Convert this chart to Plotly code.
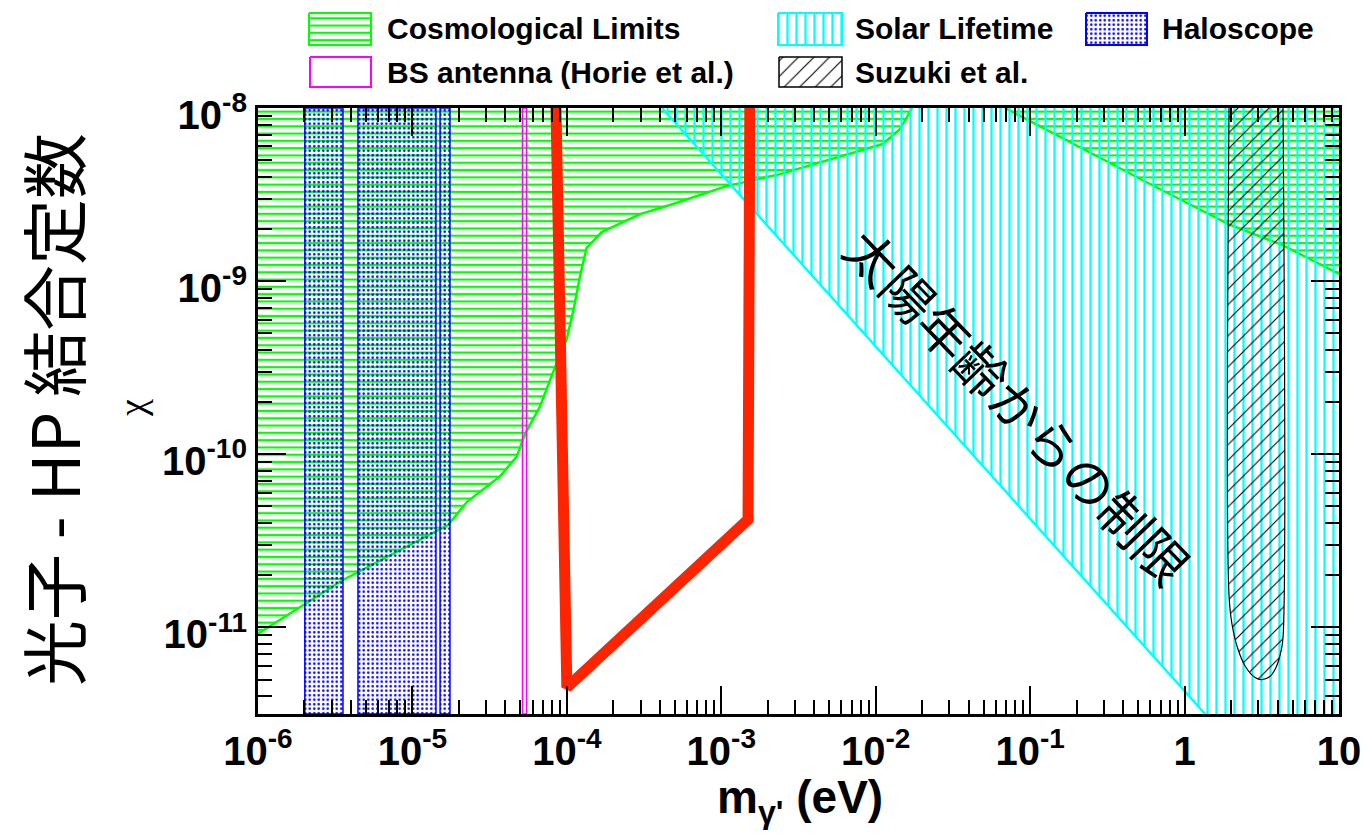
import plotly.graph_objects as go

W, H = 1367, 840
PL, PR, PT, PB = 258, 1339, 108, 714   # plot-area pixel box

# ---------------- data ----------------
m_min, m_max = 1e-6, 10.0
chi_min, chi_max = 10 ** -11.5, 1e-8

cosmo_left_mass = [1e-6, 3.55e-6, 1.7e-5, 2.25e-5, 3.69e-5, 4.73e-5, 5.36e-5, 6.70e-5,
                   8.38e-5, 9.97e-5, 1.10e-4, 1.22e-4, 1.34e-4, 1.68e-4, 2.98e-4,
                   4.87e-4, 1.08e-3, 2.40e-3, 1.11e-2, 1.44e-2, 1.72e-2]
cosmo_left_chi = [9.2e-12, 1.88e-11, 3.9e-11, 5.3e-11, 7.46e-11, 9.7e-11, 1.31e-10, 1.89e-10,
                  3.18e-10, 4.62e-10, 6.71e-10, 1.08e-9, 1.55e-9, 1.92e-9, 2.44e-9,
                  2.79e-9, 3.54e-9, 4.15e-9, 6.19e-9, 7.56e-9, 1e-8]

cosmo_right_mass = [0.0687, 0.597, 1.94, 4.34, 10.0]
cosmo_right_chi = [1e-8, 3.64e-9, 2.13e-9, 1.61e-9, 1.10e-9]

solar_mass = [4.13e-4, 1.36]
solar_chi = [1e-8, 3.16e-12]

haloscope_lo = [2.01e-6, 4.44e-6, 1.51e-5]
haloscope_hi = [3.55e-6, 1.42e-5, 1.75e-5]

bs_lo, bs_hi = 5.16e-5, 5.48e-5

suzuki_mass = [1.94, 1.94, 2.03, 2.22, 2.50, 2.86, 3.17, 3.57, 3.91, 4.21, 4.34, 4.34]
suzuki_chi = [1e-8, 1.53e-11, 1.04e-11, 7.46e-12, 5.87e-12, 5.14e-12, 5.0e-12, 5.21e-12,
              5.87e-12, 7.27e-12, 8.75e-12, 1e-8]

red_mass = [8.5e-5, 1.0e-4, 1.49e-3, 1.53e-3]
red_chi = [1.0e-8, 4.5e-12, 4.2e-11, 1.0e-8]

x_tickvals = [1e-6, 1e-5, 1e-4, 1e-3, 1e-2, 1e-1, 1, 10]
x_ticktext = ["10<sup>-6</sup>", "10<sup>-5</sup>", "10<sup>-4</sup>", "10<sup>-3</sup>",
              "10<sup>-2</sup>", "10<sup>-1</sup>", "1", "10"]
y_tickvals = [1e-11, 1e-10, 1e-9, 1e-8]
y_ticktext = ["10<sup>-11</sup>", "10<sup>-10</sup>", "10<sup>-9</sup>", "10<sup>-8</sup>"]

legend_names = ["Cosmological Limits", "Solar Lifetime", "Haloscope",
                "BS antenna (Horie et al.)", "Suzuki et al."]

GREEN, CYAN, BLUE, MAG, BLACK, RED = "#00ff00", "#00ffff", "#0000ff", "#ff00ff", "#000000", "#ff2400"
CLEAR = "rgba(0,0,0,0)"

pat_green = dict(shape="-", fgcolor=GREEN, bgcolor=CLEAR, size=7.3, solidity=0.3, fillmode="replace")
pat_cyan = dict(shape="|", fgcolor=CYAN, bgcolor=CLEAR, size=9, solidity=0.25, fillmode="replace")
pat_blue = dict(shape=".", fgcolor=BLUE, bgcolor=CLEAR, size=4.5, solidity=0.25, fillmode="replace")
pat_black = dict(shape="/", fgcolor=BLACK, bgcolor=CLEAR, size=11, solidity=0.1, fillmode="replace")

fig = go.Figure()

# Cosmological limits (left region)
fig.add_trace(go.Scatter(x=cosmo_left_mass + [m_min], y=cosmo_left_chi + [chi_max],
                         fill="toself", fillcolor=CLEAR, fillpattern=pat_green,
                         mode="lines", line=dict(width=0), showlegend=False, hoverinfo="skip"))
fig.add_trace(go.Scatter(x=cosmo_left_mass, y=cosmo_left_chi, mode="lines",
                         line=dict(color=GREEN, width=2.5), showlegend=False, hoverinfo="skip"))
# Cosmological limits (right region)
fig.add_trace(go.Scatter(x=cosmo_right_mass + [m_max], y=cosmo_right_chi + [chi_max],
                         fill="toself", fillcolor=CLEAR, fillpattern=pat_green,
                         mode="lines", line=dict(width=0), showlegend=False, hoverinfo="skip"))
fig.add_trace(go.Scatter(x=cosmo_right_mass, y=cosmo_right_chi, mode="lines",
                         line=dict(color=GREEN, width=2.5), showlegend=False, hoverinfo="skip"))

# Solar lifetime
fig.add_trace(go.Scatter(x=solar_mass + [m_max, m_max], y=solar_chi + [chi_min, chi_max],
                         fill="toself", fillcolor=CLEAR, fillpattern=pat_cyan,
                         mode="lines", line=dict(width=0), showlegend=False, hoverinfo="skip"))
fig.add_trace(go.Scatter(x=solar_mass, y=solar_chi, mode="lines",
                         line=dict(color=CYAN, width=2.5), showlegend=False, hoverinfo="skip"))

# Haloscope bands
for lo, hi in zip(haloscope_lo, haloscope_hi):
    fig.add_trace(go.Scatter(x=[lo, hi, hi, lo, lo], y=[chi_min, chi_min, chi_max, chi_max, chi_min],
                             fill="toself", fillcolor=CLEAR, fillpattern=pat_blue,
                             mode="lines", line=dict(color=BLUE, width=1.5),
                             showlegend=False, hoverinfo="skip"))

# BS antenna
fig.add_trace(go.Scatter(x=[bs_lo, bs_hi, bs_hi, bs_lo, bs_lo],
                         y=[chi_min, chi_min, chi_max, chi_max, chi_min],
                         mode="lines", line=dict(color=MAG, width=1.5),
                         showlegend=False, hoverinfo="skip"))

# Suzuki et al.
fig.add_trace(go.Scatter(x=suzuki_mass, y=suzuki_chi, fill="toself", fillcolor=CLEAR,
                         fillpattern=pat_black, mode="lines", line=dict(color=BLACK, width=1.2),
                         line_shape="spline", showlegend=False, hoverinfo="skip"))

# Red sensitivity curve
fig.add_trace(go.Scatter(x=red_mass, y=red_chi, mode="lines",
                         line=dict(color=RED, width=11), showlegend=False, hoverinfo="skip"))

# ---------------- legend (drawn on a pixel-space overlay) ----------------
leg_boxes = [  # (x0, y0, x1, y1) in pixels, pattern, line colour
    ((309, 13, 371, 45), pat_green, GREEN),
    ((778, 13, 842, 45), pat_cyan, CYAN),
    ((1086, 13, 1147, 45), pat_blue, BLUE),
    ((310, 57, 371, 87), None, MAG),
    ((779, 57, 842, 87), pat_black, BLACK),
]
for (x0, y0, x1, y1), pat, col in leg_boxes:
    kw = dict(fill="toself", fillcolor=CLEAR, fillpattern=pat) if pat else {}
    fig.add_trace(go.Scatter(x=[x0, x1, x1, x0, x0], y=[y0, y0, y1, y1, y0], mode="lines",
                             line=dict(color=col, width=2 if col != BLACK else 1.5),
                             xaxis="x2", yaxis="y2", showlegend=False, hoverinfo="skip", **kw))

leg_text_pos = [(385, 29), (853, 29), (1160, 29), (385, 72), (853, 72)]
annotations = []
for name, (tx, ty) in zip(legend_names, leg_text_pos):
    annotations.append(dict(text=name, x=tx / W, y=1 - ty / H, xref="paper", yref="paper",
                            xanchor="left", yanchor="middle", showarrow=False,
                            font=dict(family="Liberation Sans", size=30, color="black", weight="bold")))

# axis titles and in-plot label
annotations.append(dict(text="光子 - HP 結合定数", x=51 / W, y=1 - 410 / H, xref="paper", yref="paper",
                        textangle=-90, showarrow=False, xanchor="center", yanchor="middle",
                        font=dict(family="Noto Sans CJK JP", size=66, color="black")))
annotations.append(dict(text="χ", x=132 / W, y=1 - 408 / H, xref="paper", yref="paper",
                        textangle=-90, showarrow=False, xanchor="center", yanchor="middle",
                        font=dict(family="Liberation Serif", size=38, color="black")))
annotations.append(dict(text="m<sub>γ'</sub> (eV)", x=800 / W, y=1 - 800 / H, xref="paper", yref="paper",
                        showarrow=False, xanchor="center", yanchor="middle",
                        font=dict(family="Liberation Sans", size=46, color="black", weight="bold")))
annotations.append(dict(text="太陽年齢からの制限", x=1019 / W, y=1 - 405 / H, xref="paper", yref="paper",
                        textangle=46, showarrow=False, xanchor="center", yanchor="middle",
                        font=dict(family="Noto Sans CJK JP", size=52, color="black")))

minor_x = [k * 10 ** e for e in range(-6, 1) for k in range(2, 10)]
minor_y = [k * 10 ** e for e in range(-12, -8) for k in range(2, 10)]

tickfont = dict(family="Liberation Sans", size=40, color="black", weight="bold")
common = dict(type="log", showgrid=False, zeroline=False, showline=True, linecolor="black",
              linewidth=3, mirror="allticks", ticks="inside", ticklen=28, tickwidth=2,
              tickcolor="black", tickfont=tickfont, tickmode="array", automargin=False)

fig.update_layout(
    width=W, height=H, autosize=False,
    margin=dict(l=0, r=0, t=0, b=0, pad=0, autoexpand=False),
    paper_bgcolor="white", plot_bgcolor=CLEAR, showlegend=False,
    xaxis=dict(domain=[PL / W, PR / W], range=[-6, 1], tickvals=x_tickvals, ticktext=x_ticktext,
               minor=dict(tickmode="array", tickvals=minor_x, ticks="inside", ticklen=14,
                          tickwidth=1.5, tickcolor="black", showgrid=False),
               anchor="y", **common),
    yaxis=dict(domain=[1 - PB / H, 1 - PT / H], range=[-11.5, -8], tickvals=y_tickvals,
               ticktext=y_ticktext, ticklabelshift=7,
               minor=dict(tickmode="array", tickvals=minor_y, ticks="inside", ticklen=14,
                          tickwidth=1.5, tickcolor="black", showgrid=False),
               anchor="x", **common),
    xaxis2=dict(domain=[0, 1], range=[0, W], visible=False, anchor="y2", fixedrange=True,
                automargin=False),
    yaxis2=dict(domain=[1 - 100 / H, 1], range=[100, 0], visible=False, anchor="x2", fixedrange=True,
                automargin=False),
    annotations=annotations,
)

fig.write_html("out.html")
